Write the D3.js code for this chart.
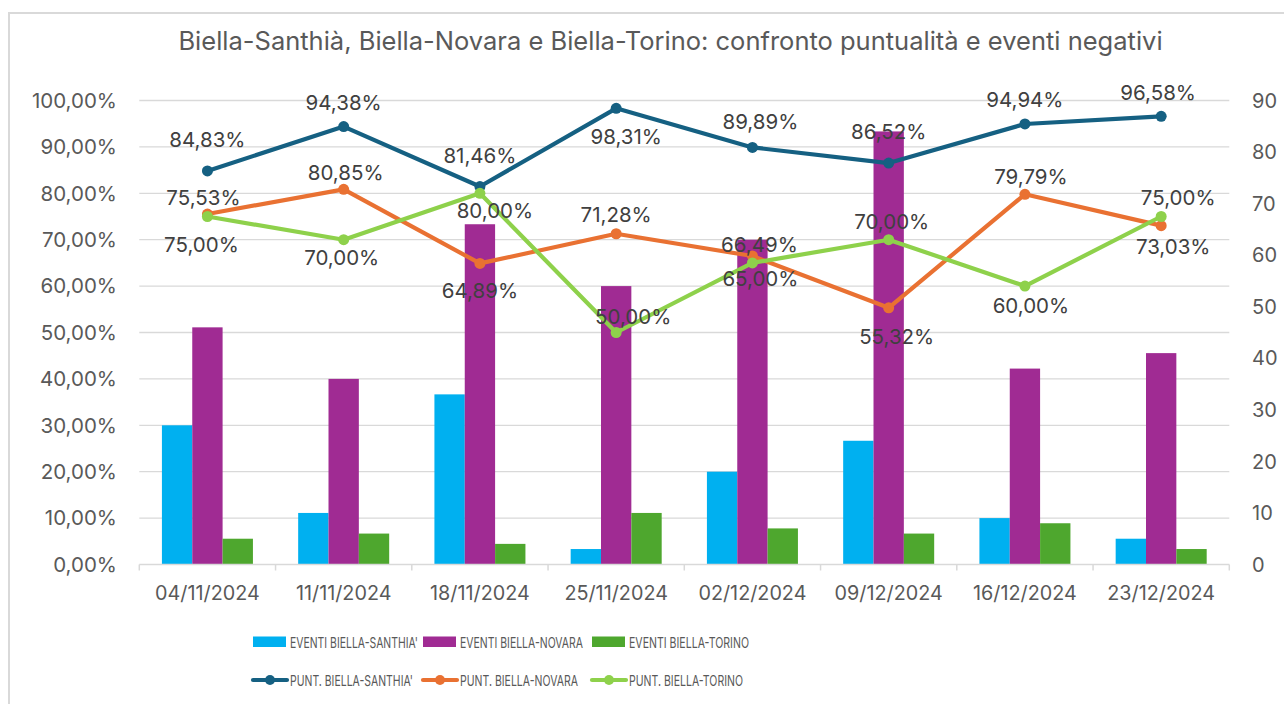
<!DOCTYPE html>
<html><head><meta charset="utf-8">
<script src="https://cdn.jsdelivr.net/npm/d3@7"></script>
<style>
html,body{margin:0;padding:0;background:#fff;}
svg{display:block;}
text{font-family:Inter,"Open Sans",sans-serif;}
</style></head>
<body>
<svg id="chart" width="1284" height="704"></svg>
<script>
const title = "Biella-Santhià, Biella-Novara e Biella-Torino: confronto puntualità e eventi negativi";
const categories = ["04/11/2024","11/11/2024","18/11/2024","25/11/2024","02/12/2024","09/12/2024","16/12/2024","23/12/2024"];
const eventiSanthia = [27,10,33,3,18,24,9,5];
const eventiNovara  = [46,36,66,54,63,84,38,41];
const eventiTorino  = [5,6,4,10,7,6,8,3];
const puntSanthia = [0.8483,0.9438,0.8146,0.9831,0.8989,0.8652,0.9494,0.9658];
const puntNovara  = [0.7553,0.8085,0.6489,0.7128,0.6649,0.5532,0.7979,0.7303];
const puntTorino  = [0.75,0.70,0.80,0.50,0.65,0.70,0.60,0.75];
const leftTicks = [0,0.1,0.2,0.3,0.4,0.5,0.6,0.7,0.8,0.9,1.0];
const rightTicks = [0,10,20,30,40,50,60,70,80,90];
const barNames = ["EVENTI BIELLA-SANTHIA'","EVENTI BIELLA-NOVARA","EVENTI BIELLA-TORINO"];
const lineNames = ["PUNT. BIELLA-SANTHIA'","PUNT. BIELLA-NOVARA","PUNT. BIELLA-TORINO"];
// label placement (dx, dy of label centre from the point)
const offSanthia = [[0,-31],[0,-24],[0,-31],[10,28],[8,-26],[0,-31],[0,-24],[-3,-24]];
const offNovara  = [[-4,-16],[2,-17],[0,27],[0,-19],[7,-11],[8,29],[6,-18],[12,21]];
const offTorino  = [[-6,28],[-2,18],[15,17],[17,-16],[8,16],[3,-18],[6,20],[17,-19]];

const barColors = ["#00B0F0","#A02B93","#4EA72E"];
const lineColors = ["#156082","#E97132","#8ED14B"];

const svg = d3.select("#chart");
const L = 139.3, R = 1229.3, T = 100.5, B = 564.5;

// outer chart border
svg.append("rect").attr("x",9).attr("y",13).attr("width",1300).attr("height",720)
  .attr("fill","#fff").attr("stroke","#d9d9d9").attr("stroke-width",2);

svg.append("text").attr("x",670.5).attr("y",50).attr("text-anchor","middle")
  .attr("font-size",25.5).attr("fill","#595959").text(title);

const x = d3.scaleBand().domain(categories).range([L,R]).padding(0);
const bw = x.bandwidth();
const xs = d3.scaleBand().domain([0,1,2]).range([bw*0.166, bw*0.834]).padding(0);
const yL = d3.scaleLinear().domain([0,1]).range([B,T]);
const yR = d3.scaleLinear().domain([0,90]).range([B,T]);

// gridlines
svg.append("g").selectAll("line").data(leftTicks.slice(1)).join("line")
  .attr("x1",L).attr("x2",R).attr("y1",d=>yL(d)).attr("y2",d=>yL(d))
  .attr("stroke","#d9d9d9").attr("stroke-width",1.3);

const fmtPct = d => (d*100).toFixed(2).replace(".",",")+"%";

// left axis labels
svg.append("g").selectAll("text").data(leftTicks).join("text")
  .attr("x",117).attr("y",d=>yL(d)).attr("dy","0.36em").attr("text-anchor","end")
  .attr("font-size",20.5).attr("fill","#595959").text(fmtPct);
// right axis labels
svg.append("g").selectAll("text").data(rightTicks).join("text")
  .attr("x",1252).attr("y",d=>yR(d)).attr("dy","0.36em").attr("text-anchor","start")
  .attr("font-size",20).attr("fill","#595959").text(d=>d);

// bars
const barSeries = [eventiSanthia,eventiNovara,eventiTorino];
barSeries.forEach((vals,s)=>{
  svg.append("g").selectAll("rect").data(vals).join("rect")
    .attr("x",(d,i)=>x(categories[i])+xs(s)).attr("width",xs.bandwidth())
    .attr("y",d=>yR(d)).attr("height",d=>B-yR(d)).attr("fill",barColors[s]);
});

// x axis
svg.append("line").attr("x1",L).attr("x2",R).attr("y1",B).attr("y2",B)
  .attr("stroke","#d9d9d9").attr("stroke-width",1.5);
const bounds = categories.map(c=>x(c)).concat([R]);
svg.append("g").selectAll("line").data(bounds).join("line")
  .attr("x1",d=>d).attr("x2",d=>d).attr("y1",B).attr("y2",B+6)
  .attr("stroke","#d9d9d9").attr("stroke-width",1.5);
svg.append("g").selectAll("text").data(categories).join("text")
  .attr("x",d=>x(d)+bw/2).attr("y",600).attr("text-anchor","middle")
  .attr("font-size",19.8).attr("fill","#595959").text(d=>d);

// lines
const lineSeries = [puntSanthia,puntNovara,puntTorino];
const offsets = [offSanthia,offNovara,offTorino];
const cx = i => x(categories[i])+bw/2;
const lineGen = d3.line().x((d,i)=>cx(i)).y(d=>yL(d));
lineSeries.forEach((vals,s)=>{
  const g = svg.append("g");
  g.append("path").attr("d",lineGen(vals)).attr("fill","none")
    .attr("stroke",lineColors[s]).attr("stroke-width",4.2).attr("stroke-linejoin","round").attr("stroke-linecap","round");
  g.selectAll("circle").data(vals).join("circle")
    .attr("cx",(d,i)=>cx(i)).attr("cy",d=>yL(d)).attr("r",5.5).attr("fill",lineColors[s]);
});
lineSeries.forEach((vals,s)=>{
  svg.append("g").selectAll("text").data(vals).join("text")
    .attr("x",(d,i)=>cx(i)+offsets[s][i][0]).attr("y",(d,i)=>yL(d)+offsets[s][i][1])
    .attr("dy","0.36em").attr("text-anchor","middle")
    .attr("font-size",20.5).attr("fill","#404040").text(fmtPct);
});

// legend
const leg = svg.append("g");
const legX = [253,423,592];
const txtX = [290,460,629];
const barTxtW = [128,123,120];
const lineTxtW = [123,118,114];
barNames.forEach((n,i)=>{
  leg.append("rect").attr("x",legX[i]).attr("y",636.5).attr("width",33).attr("height",10.5).attr("fill",barColors[i]);
  leg.append("text").attr("x",txtX[i]).attr("y",647.5).attr("font-size",15).attr("fill","#595959")
    .attr("textLength",barTxtW[i]).attr("lengthAdjust","spacingAndGlyphs").text(n);
});
lineNames.forEach((n,i)=>{
  leg.append("line").attr("x1",legX[i]).attr("x2",legX[i]+34).attr("y1",680).attr("y2",680)
    .attr("stroke",lineColors[i]).attr("stroke-width",4.2).attr("stroke-linecap","round");
  leg.append("circle").attr("cx",legX[i]+17).attr("cy",680).attr("r",5).attr("fill",lineColors[i]);
  leg.append("text").attr("x",txtX[i]).attr("y",685.5).attr("font-size",15).attr("fill","#595959")
    .attr("textLength",lineTxtW[i]).attr("lengthAdjust","spacingAndGlyphs").text(n);
});
</script>
</body></html>
